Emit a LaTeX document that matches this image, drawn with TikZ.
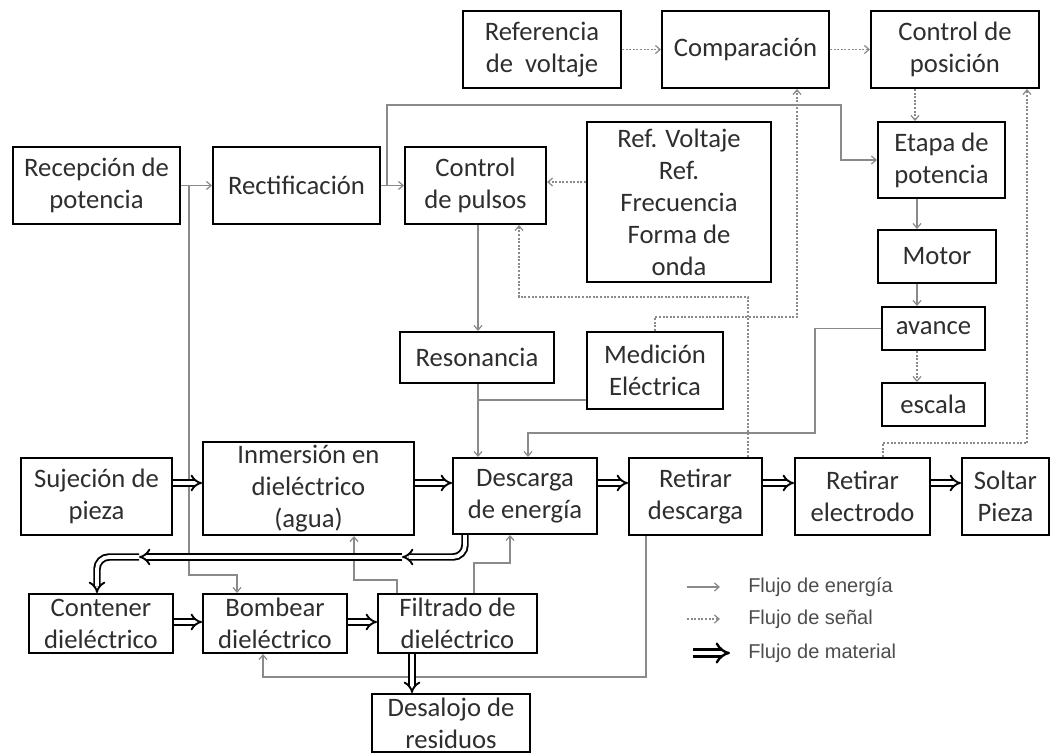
\documentclass[tikz,border=0pt]{standalone}
\usepackage{fontspec}
\setmainfont{Carlito}
\newfontfamily\legfont{Liberation Sans}
\usetikzlibrary{arrows.meta}
\definecolor{txt}{HTML}{2E2E2E}
\definecolor{ln}{HTML}{8A8A8A}
\begin{document}
\begin{tikzpicture}[x=0.75pt,y=-0.75pt,
  box/.style={draw=black,line width=1.5pt,inner sep=0pt,align=center,text=txt,
    font=\fontsize{20}{24}\selectfont},
  en/.style={draw=ln,line width=0.9pt,-{Straight Barb[length=3.5pt,width=6pt]}},
  enl/.style={draw=ln,line width=0.9pt},
  sig/.style={draw=ln,line width=0.9pt,dash pattern=on 1.5pt off 1.2pt,-{Straight Barb[length=3.5pt,width=6pt]}},
  mat/.style={draw=black,line width=1.4pt,double=white,double distance=2.8pt,-{Implies}},
  matr/.style={mat,rounded corners=9pt},
  leg/.style={font=\legfont\fontsize{15}{17}\selectfont,text=txt!85,anchor=west,inner sep=0pt}
]
\useasboundingbox (0,0) rectangle (1059,755);
% boxes
\node[box,minimum width=125.25pt,minimum height=57.75pt] (rec) at (96.5,185.5) {Recepción de\\potencia};
\node[box,minimum width=125.25pt,minimum height=57.75pt] (rect) at (296.5,185.5) {Rectificación};
\node[box,minimum width=105.75pt,minimum height=57.75pt] (cpul) at (475.5,185.5) {Control\\de pulsos};
\node[box,minimum width=118.5pt,minimum height=57.75pt] (refv) at (542,49.5) {Referencia\\de\ \ voltaje};
\node[box,minimum width=125.25pt,minimum height=57.75pt] (comp) at (745.5,49.5) {Comparación};
\node[box,minimum width=126pt,minimum height=57.75pt] (cpos) at (955,49.5) {Control de\\posición};
\node[box,minimum width=138pt,minimum height=120pt] (refbox) at (679,202) {Ref. Voltaje\\Ref.\\Frecuencia\\Forma de\\onda};
\node[box,minimum width=95.25pt,minimum height=57pt] (etapa) at (941.5,160) {Etapa de\\potencia};
\node[box,minimum width=88.5pt,minimum height=39.75pt] (motor) at (937,256.5) {Motor};
\node[box,minimum width=77.25pt,minimum height=32.25pt] (avance) at (933.5,328.5) {avance};
\node[box,minimum width=77.25pt,minimum height=32.25pt] (escala) at (933.5,404.5) {escala};
\node[box,minimum width=115.5pt,minimum height=38.25pt] (reson) at (477,357.5) {Resonancia};
\node[box,minimum width=102pt,minimum height=57.75pt] (medic) at (655,370.5) {Medición\\Eléctrica};
\node[box,minimum width=113.25pt,minimum height=57.75pt] (suj) at (96.5,496.5) {Sujeción de\\pieza};
\node[box,minimum width=158.25pt,minimum height=69.75pt] (inm) at (308.5,488.5) {Inmersión en\\dieléctrico\\(agua)};
\node[box,minimum width=108pt,minimum height=57pt] (desc) at (525,496) {Descarga\\de energía};
\node[box,minimum width=99.75pt,minimum height=57.75pt] (retd) at (695.5,496.5) {Retirar\\descarga};
\node[box,minimum width=101.25pt,minimum height=57.75pt] (rete) at (862.5,496.5) {Retirar\\electrodo};
\node[box,minimum width=65.25pt,minimum height=57.75pt] (solt) at (1005.5,496.5) {Soltar\\Pieza};
\node[box,minimum width=108pt,minimum height=44.25pt] (cont) at (101,623.5) {Contener\\dieléctrico};
\node[box,minimum width=108pt,minimum height=44.25pt] (bomb) at (275,623.5) {Bombear\\dieléctrico};
\node[box,minimum width=119.25pt,minimum height=44.25pt] (filt) at (457.5,623.5) {Filtrado de\\dieléctrico};
\node[box,minimum width=118.5pt,minimum height=43.5pt] (desa) at (451,723) {Desalojo de\\residuos};
% energy flow
\coordinate (j1) at (387,185.5);
\coordinate (j2) at (189,185.5);
\coordinate (j3) at (478,400);
\draw[en] (rec.east) -- (rect.west);
\draw[en] (rect.east) -- (cpul.west);
\draw[en] (j1) |- (841,105) |- (etapa.west);
\draw[en] (j2) |- (237,575) -- (237,0 |- bomb.north);
\draw[en] (478,0 |- cpul.south) -- (478,0 |- reson.north);
\draw[en] (478,0 |- reson.south) -- (478,0 |- desc.north);
\draw[enl] (medic.west |- j3) -- (j3);
\draw[en] (avance.west) -| (815,433) -| (528,0 |- desc.north);
\draw[en] (917,0 |- etapa.south) -- (917,0 |- motor.north);
\draw[en] (917,0 |- motor.south) -- (917,0 |- avance.north);
\draw[en] (397,0 |- filt.north) |- (354,580) -- (354,0 |- inm.south);
\draw[en] (474,0 |- filt.north) |- (510,563) -- (510,0 |- desc.south);
\draw[en] (646,0 |- retd.south) |- (263,677) -- (263,0 |- bomb.south);
% signal flow
\draw[sig] (refv.east) -- (comp.west);
\draw[sig] (comp.east) -- (cpos.west);
\draw[sig] (refbox.west |- 0,182) -- (cpul.east |- 0,182);
\draw[sig] (915,0 |- cpos.south) -- (915,0 |- etapa.north);
\draw[sig] (917,0 |- avance.south) -- (917,0 |- escala.north);
\draw[sig] (748,0 |- retd.north) |- (519,297) -- (519,0 |- cpul.south);
\draw[sig] (655,0 |- medic.north) |- (797,317) -- (797,0 |- comp.south);
\draw[sig] (883,0 |- rete.north) |- (1027,443) -- (1027,0 |- cpos.south);
% material flow
\draw[mat] (suj.east |- 0,483) -- (inm.west |- 0,483);
\draw[mat] (inm.east |- 0,483) -- (desc.west |- 0,483);
\draw[mat] (desc.east |- 0,483) -- (retd.west |- 0,483);
\draw[mat] (retd.east |- 0,483) -- (rete.west |- 0,483);
\draw[mat] (rete.east |- 0,483) -- (solt.west |- 0,483);
\draw[mat] (cont.east |- 0,622) -- (bomb.west |- 0,622);
\draw[mat] (bomb.east |- 0,622) -- (filt.west |- 0,622);
\draw[mat] (412,0 |- filt.south) -- (412,0 |- desa.north);
\coordinate (p1) at (402,557);
\coordinate (p2) at (139,557);
\draw[matr] (465,0 |- desc.south) |- (p1);
\draw[mat] (p1) -- (p2);
\draw[matr] (p2) -| (97,0 |- cont.north);
% legend
\coordinate (le1) at (687,587); \coordinate (le2) at (720,587);
\coordinate (ls1) at (687,619); \coordinate (ls2) at (720,619);
\coordinate (lm1) at (693,653); \coordinate (lm2) at (730,653);
\draw[en] (le1) -- (le2);
\draw[sig] (ls1) -- (ls2);
\draw[mat,line width=1.8pt,double distance=3.5pt] (lm1) -- (lm2);
\node[leg] (lte) at (748,587) {Flujo de energía};
\node[leg] (lts) at (748,619) {Flujo de señal};
\node[leg] (ltm) at (748,653) {Flujo de material};
\end{tikzpicture}
\end{document}
